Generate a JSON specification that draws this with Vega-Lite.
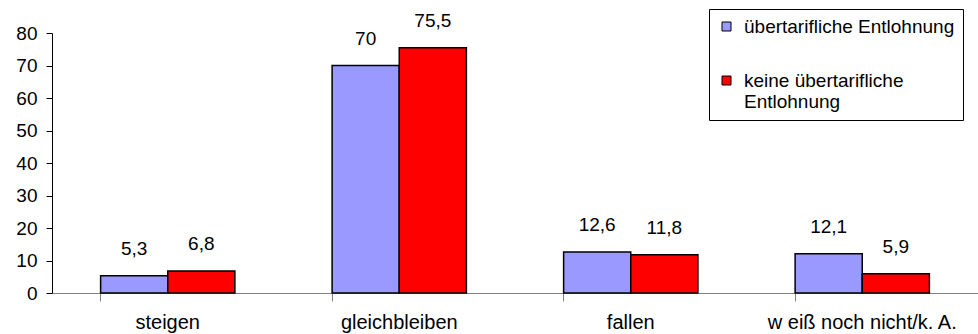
{
  "$schema": "https://vega.github.io/schema/vega-lite/v6.json",
  "width": 926,
  "height": 260,
  "autosize": {"type": "none"},
  "padding": {"left": 52, "top": 33, "right": 0, "bottom": 41},
  "background": "white",
  "config": {
    "view": {"stroke": null},
    "font": "Liberation Sans",
    "locale": {"number": {"decimal": ",", "thousands": ".", "grouping": [3], "currency": ["", " €"]}}
  },
  "data": {
    "values": [
      {"kategorie": "steigen", "gruppe": "übertarifliche Entlohnung", "wert": 5.3},
      {"kategorie": "steigen", "gruppe": "keine übertarifliche Entlohnung", "wert": 6.8},
      {"kategorie": "gleichbleiben", "gruppe": "übertarifliche Entlohnung", "wert": 70},
      {"kategorie": "gleichbleiben", "gruppe": "keine übertarifliche Entlohnung", "wert": 75.5},
      {"kategorie": "fallen", "gruppe": "übertarifliche Entlohnung", "wert": 12.6},
      {"kategorie": "fallen", "gruppe": "keine übertarifliche Entlohnung", "wert": 11.8},
      {"kategorie": "w eiß noch nicht/k. A.", "gruppe": "übertarifliche Entlohnung", "wert": 12.1},
      {"kategorie": "w eiß noch nicht/k. A.", "gruppe": "keine übertarifliche Entlohnung", "wert": 5.9}
    ]
  },
  "encoding": {
    "x": {
      "field": "kategorie",
      "type": "nominal",
      "sort": null,
      "scale": {"paddingInner": 0.42, "paddingOuter": 0.21},
      "axis": {
        "title": null,
        "labelAngle": 0,
        "labelFontSize": 20,
        "labelColor": "black",
        "labelPadding": 11,
        "labelBaseline": "top",
        "labelLimit": 400,
        "bandPosition": 0,
        "tickSize": 8,
        "tickColor": "#808080",
        "domainColor": "#808080",
        "domainWidth": 1,
        "grid": false
      }
    },
    "xOffset": {"field": "gruppe", "type": "nominal", "sort": null, "scale": {"paddingInner": 0, "paddingOuter": 0}},
    "y": {
      "field": "wert",
      "type": "quantitative",
      "scale": {"domain": [0, 80], "nice": false},
      "axis": {
        "title": null,
        "values": [0, 10, 20, 30, 40, 50, 60, 70, 80],
        "labelFontSize": 19,
        "labelColor": "black",
        "labelPadding": 9,
        "tickSize": 6,
        "tickColor": "black",
        "domainColor": "black",
        "grid": false
      }
    }
  },
  "layer": [
    {
      "mark": {"type": "bar", "stroke": "black", "strokeWidth": 1.5},
      "encoding": {
        "color": {
          "field": "gruppe",
          "type": "nominal",
          "sort": null,
          "scale": {"domain": ["übertarifliche Entlohnung", "keine übertarifliche Entlohnung"], "range": ["#9999FF", "#FF0000"]},
          "legend": {
            "title": null,
            "orient": "none",
            "legendX": 657,
            "legendY": -24,
            "fillColor": "white",
            "strokeColor": "black",
            "padding": 8,
            "symbolType": "square",
            "symbolSize": 81,
            "symbolStrokeColor": "black",
            "symbolStrokeWidth": 1,
            "symbolOpacity": 1,
            "labelFontSize": 19,
            "labelColor": "black",
            "labelLimit": 400,
            "labelOffset": 8,
            "labelLineHeight": 21,
            "rowPadding": 34,
            "labelExpr": "datum.label == 'keine übertarifliche Entlohnung' ? ['keine übertarifliche', 'Entlohnung'] : datum.label"
          }
        }
      }
    },
    {
      "mark": {"type": "text", "baseline": "alphabetic", "dy": -21, "fontSize": 19, "color": "black"},
      "encoding": {
        "text": {"field": "wert", "type": "quantitative", "format": ".1~f"}
      }
    }
  ]
}
